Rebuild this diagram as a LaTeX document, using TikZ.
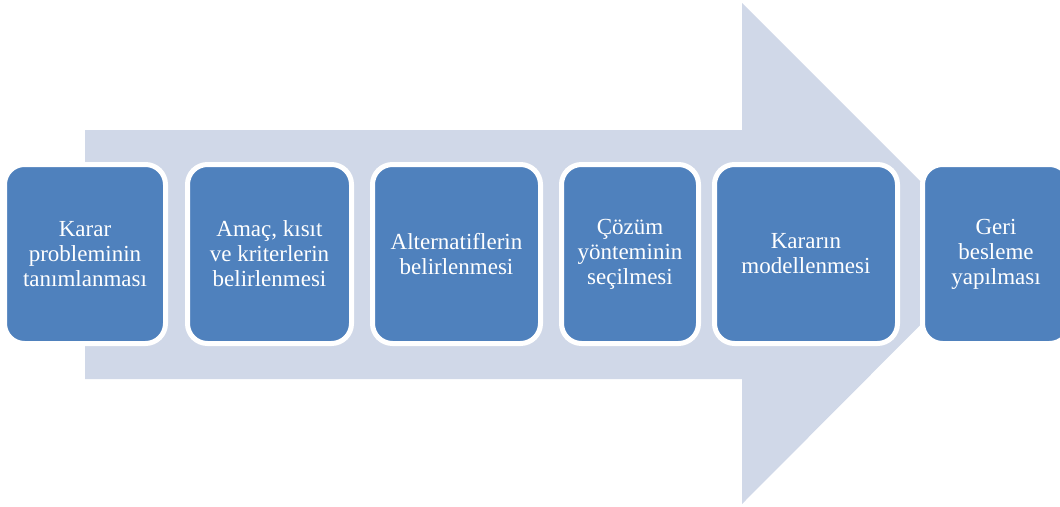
\documentclass[tikz,border=0pt]{standalone}
\usepackage{fontspec}
\setmainfont{Liberation Serif}
\definecolor{arrowfill}{HTML}{D0D8E8}
\definecolor{boxblue}{HTML}{4F81BD}
\begin{document}
\begin{tikzpicture}[x=1pt,y=-1pt,
  stepbox/.style={rectangle, rounded corners=20pt, fill=boxblue, draw=white, line width=5pt,
    inner sep=0pt, minimum height=179pt, text=white, align=center,
    font=\fontsize{23}{25}\selectfont}]
\useasboundingbox (0,0) rectangle (1060,506);
\fill[arrowfill] (85,130) -- (742,130) -- (742,3) -- (992,253) -- (742,504) -- (742,379) -- (85,379) -- cycle;
\node[stepbox, minimum width=161pt] (b1) at (85,254) {Karar\\probleminin\\tanımlanması};
\node[stepbox, minimum width=164pt] (b2) at (269.5,254) {Amaç, kısıt\\ve kriterlerin\\belirlenmesi};
\node[stepbox, minimum width=168pt] (b3) at (456.5,254) {Alternatiflerin\\belirlenmesi};
\node[stepbox, minimum width=137pt] (b4) at (630,254) {Çözüm\\yönteminin\\seçilmesi};
\node[stepbox, minimum width=183pt] (b5) at (806,254) {Kararın\\modellenmesi};
\node[stepbox, minimum width=147pt] (b6) at (996,254) {Geri\\besleme\\yapılması};
\end{tikzpicture}
\end{document}
